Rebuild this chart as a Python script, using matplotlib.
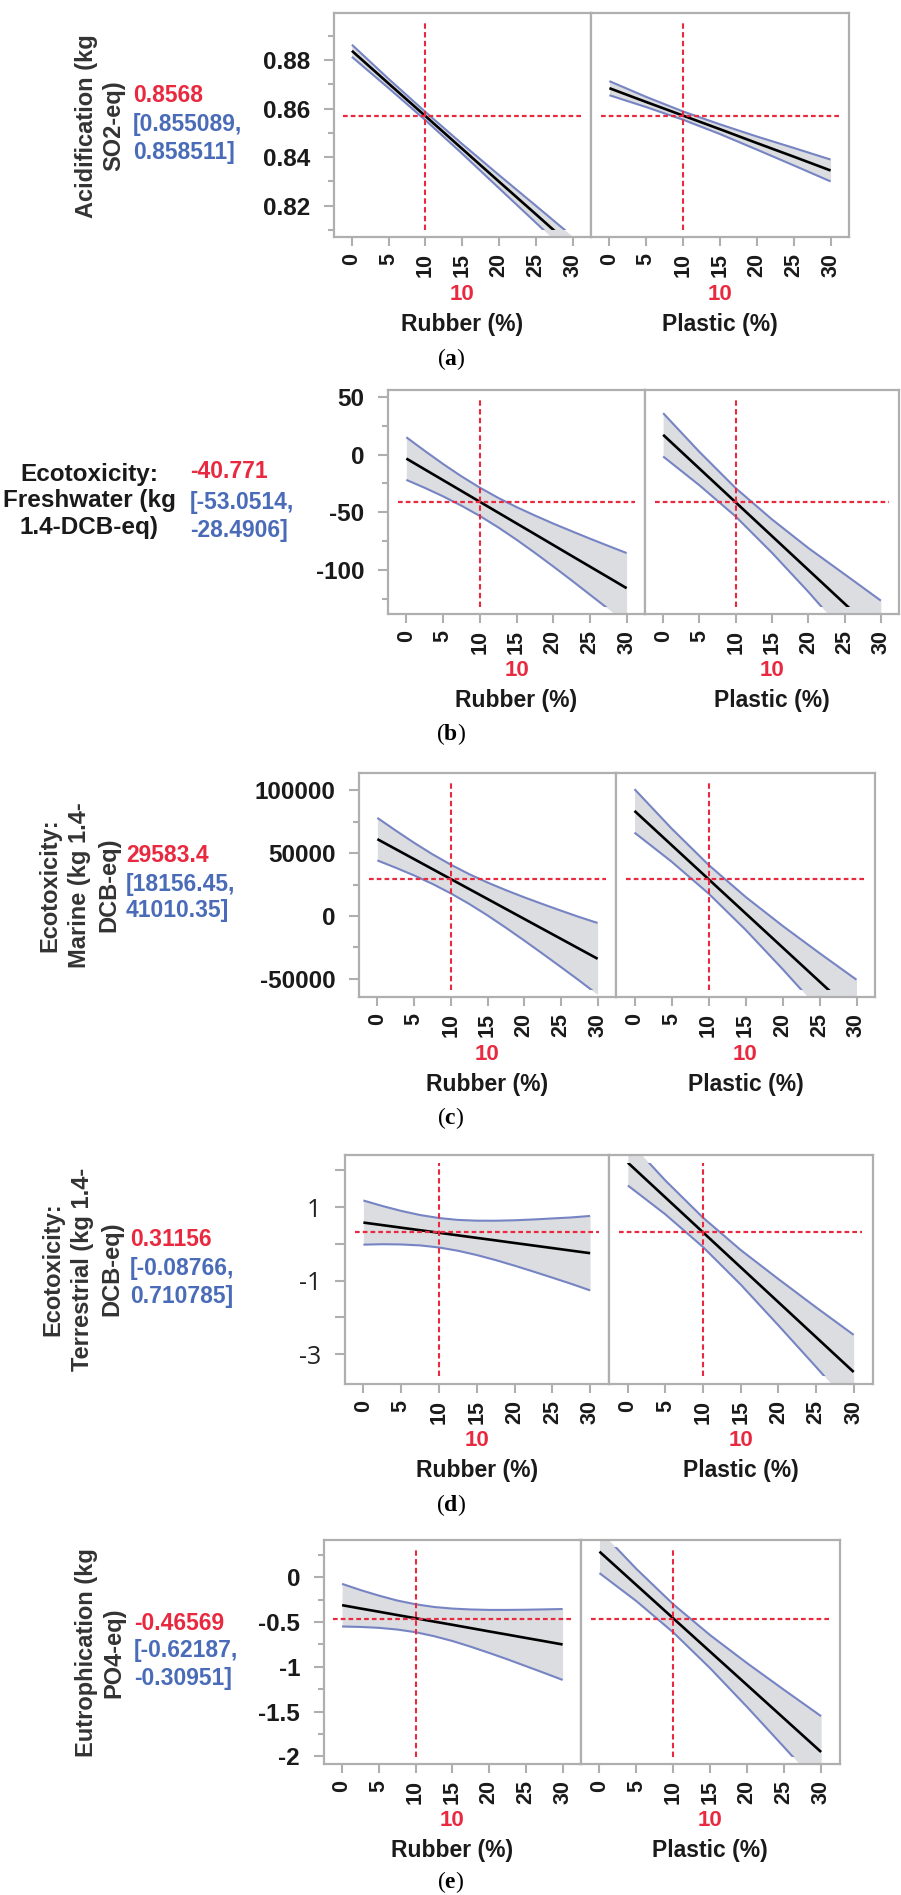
import matplotlib
matplotlib.use("Agg")
import matplotlib.pyplot as plt
from matplotlib.patches import Rectangle
from matplotlib.ticker import FixedLocator, FixedFormatter

plt.rcParams['axes.unicode_minus'] = False
plt.rcParams['font.family'] = ['Liberation Sans', 'DejaVu Sans']
plt.rcParams['mathtext.fontset'] = 'custom'
plt.rcParams['mathtext.bf'] = 'Liberation Serif:bold'
plt.rcParams['mathtext.rm'] = 'Liberation Serif'

# ---------------- data ----------------
x7 = [0, 5, 10, 15, 20, 25, 30]
x13 = [0, 2.5, 5, 7.5, 10, 12.5, 15, 17.5, 20, 22.5, 25, 27.5, 30]
x_ticks = [0, 5, 10, 15, 20, 25, 30]
x_tick_labels = ["0", "5", "10", "15", "20", "25", "30"]
factors = ["Rubber (%)", "Plastic (%)"]
factor_setting = "10"
panel_letters = ["a", "b", "c", "d", "e"]

# (a) Acidification
a_rub_mean = [0.8838, 0.8703, 0.8569, 0.8434, 0.8299, 0.8165, 0.8030]
a_rub_up = [0.8863, 0.8722, 0.8586, 0.8454, 0.8326, 0.8200, 0.8073]
a_rub_low = [0.8813, 0.8684, 0.8552, 0.8414, 0.8272, 0.8130, 0.7987]
a_pla_mean = [0.8684, 0.8627, 0.8571, 0.8515, 0.8458, 0.8402, 0.8345]
a_pla_up = [0.8713, 0.8648, 0.8588, 0.8535, 0.8485, 0.8438, 0.8390]
a_pla_low = [0.8655, 0.8606, 0.8554, 0.8495, 0.8431, 0.8366, 0.8300]
a_yticks = [0.82, 0.84, 0.86, 0.88]
a_yticklabels = ["0.82", "0.84", "0.86", "0.88"]
a_yminor = [0.81, 0.83, 0.85, 0.87, 0.89]
a_ylim = (0.8071, 0.8995)

# (b) Ecotoxicity: Freshwater
b_rub_mean = [-3.5, -12.9, -22.25, -31.6, -41.0, -50.4, -59.75, -69.1, -78.5, -87.9, -97.25, -106.6, -116.0]
b_rub_up = [15.0, 3.2, -8.2, -18.9, -28.7, -37.6, -45.6, -52.9, -59.9, -66.5, -73.0, -79.3, -85.5]
b_rub_low = [-22.0, -28.9, -36.3, -44.4, -53.3, -63.2, -73.9, -85.3, -97.1, -109.2, -121.6, -134.0, -146.5]
b_pla_mean = [17.1, -12.2, -41.5, -70.8, -100.1, -129.4, -158.8]
b_pla_up = [35.9, 2.3, -29.2, -56.3, -81.1, -103.9, -126.8]
b_pla_low = [-1.7, -26.7, -53.8, -85.3, -119.1, -154.9, -190.8]
b_yticks = [-100, -50, 0, 50]
b_yticklabels = ["-100", "-50", "0", "50"]
b_yminor = [-125, -75, -25, 25]
b_ylim = (-138.4, 56.0)

# (c) Ecotoxicity: Marine
c_rub_mean = [61100, 53160, 45230, 37290, 29360, 21420, 13490, 5550, -2390, -10320, -18260, -26190, -34130]
c_rub_up = [78030, 67960, 58230, 49090, 40790, 33270, 26590, 20500, 14810, 9430, 4190, -890, -5630]
c_rub_low = [44170, 38360, 32230, 25490, 17930, 9570, 390, -9400, -19590, -30070, -40710, -51490, -62630]
c_pla_mean = [83600, 56440, 29270, 2100, -25060, -52230, -79400]
c_pla_up = [100900, 69640, 40670, 15200, -7860, -29630, -50800]
c_pla_low = [66300, 43240, 17870, -11000, -42260, -74830, -108000]
c_yticks = [-50000, 0, 50000, 100000]
c_yticklabels = ["-50000", "0", "50000", "100000"]
c_yminor = [-25000, 25000, 75000]
c_ylim = (-64550, 113757)

# (d) Ecotoxicity: Terrestrial
d_rub_mean = [0.579, 0.510, 0.440, 0.371, 0.302, 0.232, 0.163, 0.094, 0.024, -0.045, -0.114, -0.184, -0.253]
d_rub_up = [1.179, 1.030, 0.896, 0.784, 0.702, 0.651, 0.630, 0.629, 0.641, 0.663, 0.691, 0.718, 0.759]
d_rub_low = [-0.021, -0.010, -0.016, -0.042, -0.098, -0.187, -0.304, -0.441, -0.593, -0.753, -0.919, -1.086, -1.265]
d_pla_mean = [2.208, 1.260, 0.311, -0.638, -1.586, -2.535, -3.484]
d_pla_up = [2.828, 1.720, 0.711, -0.168, -0.956, -1.725, -2.474]
d_pla_low = [1.588, 0.800, -0.089, -1.108, -2.216, -3.345, -4.494]
d_yticks = [-3, -1, 1]
d_yticklabels = ["-3", "-1", "1"]
d_yminor = [-2, 0, 2]
d_ylim = (-3.81, 2.416)

# (e) Eutrophication
e_rub_mean = [-0.312, -0.349, -0.385, -0.422, -0.458, -0.495, -0.531, -0.568, -0.605, -0.641, -0.678, -0.714, -0.751]
e_rub_up = [-0.074, -0.143, -0.205, -0.260, -0.302, -0.332, -0.350, -0.360, -0.365, -0.365, -0.363, -0.359, -0.355]
e_rub_low = [-0.550, -0.555, -0.565, -0.584, -0.614, -0.658, -0.712, -0.776, -0.845, -0.917, -0.993, -1.069, -1.147]
e_pla_mean = [0.286, -0.087, -0.460, -0.833, -1.206, -1.579, -1.952]
e_pla_up = [0.526, 0.093, -0.303, -0.648, -0.961, -1.259, -1.552]
e_pla_low = [0.046, -0.267, -0.617, -1.018, -1.451, -1.899, -2.352]
e_yticks = [-2, -1.5, -1, -0.5, 0]
e_yticklabels = ["-2", "-1.5", "-1", "-0.5", "0"]
e_yminor = [-1.75, -1.25, -0.75, -0.25, 0.25]
e_ylim = (-2.086, 0.416)

predicted = [0.8568, -40.771, 29583.4, 0.31156, -0.46569]
pred_text = ["0.8568", "-40.771", "29583.4", "0.31156", "-0.46569"]
ci_text = [["[0.855089,", "0.858511]"],
           ["[-53.0514,", "-28.4906]"],
           ["[18156.45,", "41010.35]"],
           ["[-0.08766,", "0.710785]"],
           ["[-0.62187,", "-0.30951]"]]
response_labels = ["Acidification (kg\nSO2-eq)",
                   "Ecotoxicity:\nFreshwater (kg\n1.4-DCB-eq)",
                   "Ecotoxicity:\nMarine (kg 1.4-\nDCB-eq)",
                   "Ecotoxicity:\nTerrestrial (kg 1.4-\nDCB-eq)",
                   "Eutrophication (kg\nPO4-eq)"]

# ---------------- layout (pixels) ----------------
W, H = 901, 1895
# left, divider, right, top, bottom
boxes = [(333.5, 591, 849, 12.7, 237),
         (388, 645, 899, 390, 614),
         (359, 616, 875, 773, 997),
         (344.5, 609, 872.5, 1155, 1384),
         (323.7, 581, 839.6, 1540, 1764)]
# label position: (x, y, rotated, linespacing)
label_pos = [(100, 126, True, 1.25), (89, 501, False, 1.2), (79.5, 885, True, 1.38),
             (82.5, 1269, True, 1.38), (100, 1653, True, 1.25)]
value_pos = [(133, 96, 124, 152), (190, 472, 502, 530), (126, 856, 884, 911),
             (130, 1240, 1268, 1296), (134, 1623, 1651, 1678)]
letter_offset = [122, 120, 121, 121, 118]

RED = '#E8293F'
BLUE = '#4A6CB8'
EDGE = '#7684C4'
FILL = '#DCDDE0'
GRAY = '#AFAFAF'

fig = plt.figure(figsize=(W / 100, H / 100), dpi=100)


def fx(px):
    return px / W


def fy(py):
    return 1 - py / H


def rect(l, r, t, b):
    return [l / W, 1 - b / H, (r - l) / W, (b - t) / H]


series = [
    ((x7, a_rub_mean, a_rub_up, a_rub_low), (x7, a_pla_mean, a_pla_up, a_pla_low), a_yticks, a_yticklabels, a_yminor, a_ylim),
    ((x13, b_rub_mean, b_rub_up, b_rub_low), (x7, b_pla_mean, b_pla_up, b_pla_low), b_yticks, b_yticklabels, b_yminor, b_ylim),
    ((x13, c_rub_mean, c_rub_up, c_rub_low), (x7, c_pla_mean, c_pla_up, c_pla_low), c_yticks, c_yticklabels, c_yminor, c_ylim),
    ((x13, d_rub_mean, d_rub_up, d_rub_low), (x7, d_pla_mean, d_pla_up, d_pla_low), d_yticks, d_yticklabels, d_yminor, d_ylim),
    ((x13, e_rub_mean, e_rub_up, e_rub_low), (x7, e_pla_mean, e_pla_up, e_pla_low), e_yticks, e_yticklabels, e_yminor, e_ylim),
]

for i, (rub, pla, yt, ytl, ymin, ylim) in enumerate(series):
    l, d, r, t, b = boxes[i]
    axL = fig.add_axes(rect(l, d, t, b))
    axR = fig.add_axes(rect(d, r, t, b))
    for j, (ax, ser) in enumerate(((axL, rub), (axR, pla))):
        xs, mean, up, low = ser
        ax.set_xlim(-2.5, 32.5)
        ax.set_ylim(*ylim)
        ax.fill_between(xs, low, up, color=FILL, lw=0, zorder=1)
        clip = Rectangle((0, 0.033), 1, 0.934, transform=ax.transAxes, facecolor='none')
        for vals, col, lw in ((up, EDGE, 1.5), (low, EDGE, 1.5), (mean, 'black', 1.9)):
            ln, = ax.plot(xs, vals, color=col, lw=lw, zorder=3, solid_capstyle='butt',
                          solid_joinstyle='round')
            ln.set_clip_path(clip)
        ax.axvline(10, ymin=0.033, ymax=0.967, color=RED, lw=1.5,
                   linestyle=(0, (2.6, 1.6)), zorder=4)
        ax.axhline(predicted[i], xmin=0.038, xmax=0.962, color=RED, lw=1.6,
                   linestyle=(0, (2.1, 1.4)), zorder=4)
        for s in ax.spines.values():
            s.set_color(GRAY)
            s.set_linewidth(1.6)
        ax.set_xticks(x_ticks)
        ax.set_xticklabels(x_tick_labels, rotation=90, fontsize=15.5,
                           fontweight='bold', color='#1a1a1a')
        ax.tick_params(axis='x', direction='out', length=6.5, width=1.5,
                       color=GRAY, pad=5)
        ax.set_facecolor('white')
        if j == 0:
            ax.yaxis.set_major_locator(FixedLocator(yt))
            ax.yaxis.set_major_formatter(FixedFormatter(ytl))
            ax.yaxis.set_minor_locator(FixedLocator(ymin))
            minor_len = 7 if i == 3 else 4
            ax.tick_params(axis='y', which='major', direction='out', length=7,
                           width=1.5, color=GRAY, pad=10)
            ax.tick_params(axis='y', which='minor', direction='out',
                           length=minor_len, width=1.5, color=GRAY)
            for lab in ax.get_yticklabels():
                if i == 3:
                    lab.set_fontfamily(['Open Sans', 'DejaVu Sans'])
                    lab.set_fontweight('normal')
                    lab.set_fontsize(18)
                    lab.set_color('#222222')
                else:
                    lab.set_fontweight('bold')
                    lab.set_fontsize(17.5)
                    lab.set_color('#1a1a1a')
        else:
            ax.set_yticks([])
            ax.tick_params(axis='y', which='both', left=False, labelleft=False)
        # text below each half
        cx = (l + d) / 2 if j == 0 else (d + r) / 2
        fig.text(fx(cx), fy(b + 57), factor_setting, color=RED, fontsize=16,
                 fontweight='bold', ha='center', va='center')
        fig.text(fx(cx), fy(b + 87), factors[j], color='#1a1a1a', fontsize=16.5,
                 fontweight='bold', ha='center', va='center')

    # panel letter
    fig.text(fx(451), fy(b + letter_offset[i]), "(" + r"$\mathbf{" + panel_letters[i] + "}$" + ")",
             family='Liberation Serif', fontsize=17, ha='center', va='center')

    # response label
    lx, ly, rot, lsp = label_pos[i]
    if rot:
        fig.text(fx(lx), fy(ly), response_labels[i], rotation=90, fontsize=17,
                 fontweight='bold', color='#333333', ha='center', va='center',
                 multialignment='center', linespacing=lsp)
    else:
        fig.text(fx(lx), fy(ly), response_labels[i], fontsize=17.5,
                 fontweight='bold', color='#1a1a1a', ha='center', va='center',
                 multialignment='center', linespacing=lsp)
    vx, vy0, vy1, vy2 = value_pos[i]
    fig.text(fx(vx), fy(vy0), pred_text[i], color=RED, fontsize=16.5,
             fontweight='bold', ha='left', va='center')
    fig.text(fx(vx), fy(vy1), ci_text[i][0], color=BLUE, fontsize=16.5,
             fontweight='bold', ha='left', va='center')
    fig.text(fx(vx), fy(vy2), ci_text[i][1], color=BLUE, fontsize=16.5,
             fontweight='bold', ha='left', va='center')

fig.savefig("out.png", dpi=100, facecolor='white')
